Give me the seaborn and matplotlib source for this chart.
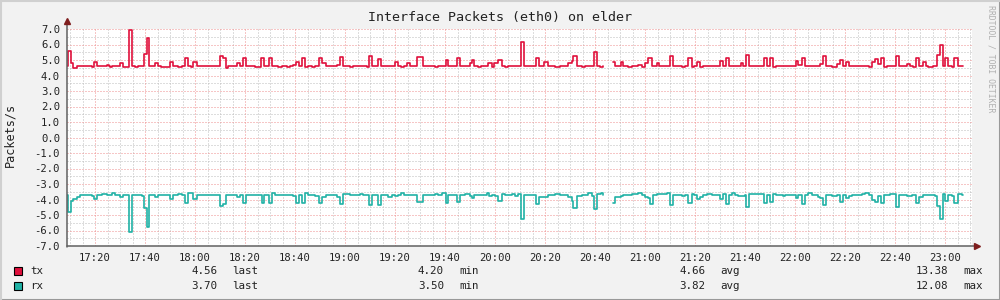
import numpy as np
import pandas as pd
import matplotlib
matplotlib.use("Agg")
import matplotlib.pyplot as plt
from matplotlib.patches import Rectangle
from matplotlib.lines import Line2D
import seaborn as sns

sns.set_style("white")
plt.rcParams['font.family'] = ['DejaVu Sans Mono']

# ---------------- data (minutes after 17:00, step change points) ----------------
tx_minutes = [8.7, 9.3, 10.3, 11.3, 12.7, 18.7, 19.7, 20.9, 24.7, 25.6, 26.0, 26.9, 30.0, 31.3,
              33.6, 34.9, 36.0, 37.3, 39.7, 40.9, 41.7, 44.0, 45.1, 46.4, 50.0, 51.3, 53.3, 54.7,
              56.0, 57.1, 58.3, 59.3, 60.7, 70.0, 71.3, 72.4, 73.3, 76.7, 78.0, 79.1, 80.4, 84.0,
              86.4, 87.7, 89.6, 90.9, 93.3, 94.7, 96.7, 98.0, 99.3, 100.4, 101.7, 102.8, 104.1,
              105.3, 106.7, 108.0, 109.6, 110.9, 112.3, 116.7, 118.0, 119.3, 122.0, 123.3,
              128.7, 129.6, 130.9, 133.1, 134.4, 140.0, 141.3, 142.4, 143.7, 144.7, 146.0, 148.7,
              151.1, 156.0, 157.1, 160.3, 161.3, 164.7, 166.0, 170.0, 170.7, 171.7, 173.1, 174.4,
              177.3, 178.7, 179.7, 181.3, 182.7, 184.0, 185.3, 190.4, 191.7, 196.4, 197.6, 199.7,
              201.1, 204.0, 206.0, 209.3, 210.7, 211.3, 212.7, 214.7, 216.0, 219.7, 220.9, 222.0,
              223.3, 225.3, 227.1, 228.0, 230.3, 231.3, 233.3, 234.7, 237.3, 238.7, 240.0, 241.3,
              242.7, 244.7, 245.6,
              250.0, 251.3, 254.7, 256.0, 257.3, 258.7, 259.6, 260.9, 262.0, 263.3, 270.0, 271.3,
              272.4, 273.7, 278.4, 279.3, 280.4, 281.7, 287.6, 288.9, 290.0, 291.3, 292.4, 300.4,
              301.3, 302.7, 304.0, 310.0, 311.1, 312.3, 314.7, 316.7, 318.0, 319.3, 320.4, 321.7,
              329.7, 330.7, 332.0, 333.3, 334.3, 335.6, 336.7, 340.4, 341.7, 344.7, 346.0, 347.3,
              348.4, 349.7, 351.1, 352.3, 353.3, 355.3, 356.7, 358.0, 359.1, 360.0, 361.3, 362.7,
              363.7, 365.1, 367.3]
tx_values = [4.61, 5.58, 4.78, 4.46, 4.61, 4.55, 4.85, 4.61, 4.68, 4.61, 4.55, 4.61, 4.78, 4.55,
             6.91, 4.61, 4.55, 4.61, 5.39, 6.40, 4.61, 4.78, 4.61, 4.55, 4.85, 4.61, 4.55, 4.61,
             5.11, 4.61, 4.55, 4.85, 4.61, 5.26, 5.11, 4.50, 4.61, 4.78, 4.61, 5.11, 4.61, 4.55,
             5.11, 4.61, 5.11, 4.61, 4.55, 4.61, 4.55, 4.61, 4.68, 4.85, 4.61, 5.11, 4.55,
             4.61, 4.55, 4.61, 5.11, 4.78, 4.61, 4.68, 5.19, 4.61, 4.55, 4.61,
             4.55, 5.26, 4.61, 5.04, 4.61, 4.85, 4.61, 4.55, 4.61, 4.78, 4.61, 5.19,
             4.61, 4.55, 4.61, 5.00, 4.61, 5.11, 4.61, 4.78, 5.00, 4.61, 4.55, 4.61,
             4.78, 4.55, 4.78, 5.00, 4.61, 4.55, 4.61, 6.18, 4.61, 5.11, 4.61, 4.85,
             4.61, 4.55, 4.61, 4.78, 4.94, 5.26, 4.61, 4.55, 4.61, 5.49, 4.61, 4.55,
             4.61, np.nan, 4.85, 4.61, 4.85, 4.61, 4.55, 4.61, 4.68, 4.55, 4.78, 5.11,
             4.61, 4.78, 4.61,
             5.26, 4.61, 4.55, 4.61, 5.11, 4.55, 4.61, 4.85, 4.55, 4.61, 4.94, 4.61,
             5.11, 4.61, 4.78, 4.61, 5.32, 4.61, 5.11, 4.61, 5.11, 4.55, 4.61, 4.94,
             4.68, 5.11, 4.61, 4.72, 5.26, 4.61, 4.55, 4.72, 5.00, 4.61, 4.85, 4.61,
             4.55, 4.85, 5.04, 4.72, 5.11, 4.55, 4.61, 5.26, 4.61, 4.72, 4.61, 4.55,
             5.11, 4.61, 4.85, 4.61, 4.55, 4.61, 5.32, 5.97, 4.61, 5.11, 4.61, 4.55,
             5.11, 4.61, 4.61]

rx_minutes = [8.7, 9.3, 10.3, 11.3, 12.7, 14.0, 18.7, 19.7, 20.9, 22.7, 24.7, 26.7, 28.0, 30.0,
              31.3, 33.6, 34.9, 38.7, 39.7, 40.9, 41.7, 44.0, 45.1, 50.0, 51.3, 53.3, 54.7, 56.0,
              57.1, 59.3, 60.7, 70.0, 71.3, 72.4, 76.7, 78.0, 79.1, 80.4, 86.7, 87.7, 89.6, 90.9,
              92.0, 99.3, 100.4, 101.7, 102.8, 104.1, 105.3, 108.0, 109.6, 110.9, 112.3, 116.7,
              118.0, 119.3, 122.0,
              126.0, 127.3, 129.6, 130.9, 133.1, 134.4, 137.3, 138.7, 140.0, 141.0, 142.4, 143.7,
              148.7, 151.1, 156.0, 157.3, 158.9, 160.3, 161.3, 164.7, 166.0, 168.0, 170.0, 170.7,
              171.7, 176.7, 177.7, 178.7, 180.0, 181.3, 182.7, 184.0, 186.7, 188.0, 189.3, 190.4,
              191.7, 196.4, 197.6, 201.1, 204.0, 206.0, 209.3, 210.7, 211.3, 212.7, 214.7, 217.3,
              218.7, 219.7, 220.9, 222.4, 223.3, 225.3, 227.1, 228.0, 230.3, 231.3, 234.7, 237.3,
              238.7, 240.0, 241.3, 242.0, 243.3, 244.7,
              247.3, 248.7, 250.0, 251.3, 254.7, 256.0, 257.3, 258.7, 259.6, 260.9, 262.0, 263.1,
              264.7, 266.7, 270.0, 271.3, 272.4, 273.7, 274.7, 276.0, 277.3, 280.0, 280.4, 281.7,
              287.6, 288.9, 290.0, 291.3, 292.4, 295.1, 296.0, 300.4, 301.3, 302.7, 304.0, 305.3,
              306.7, 309.0, 310.0, 311.1, 312.3, 314.7, 316.7, 318.0, 319.3, 320.4, 321.7, 322.7,
              326.7, 328.0, 329.7, 330.7, 332.0, 333.3, 334.3, 335.6, 338.0, 340.4, 341.7, 344.7,
              346.7, 348.4, 349.7, 351.1, 356.0, 356.7, 358.0, 359.1, 360.0, 361.3, 362.7, 363.7,
              365.1, 366.7, 367.3]
rx_values = [-3.71, -4.83, -4.08, -3.99, -3.86, -3.71, -3.77, -3.99, -3.71, -3.65, -3.71, -3.60, -3.71, -3.86,
             -3.71, -6.12, -3.71, -3.77, -4.57, -5.75, -3.71, -3.86, -3.71, -3.99, -3.71, -3.65, -3.71, -4.25,
             -3.60, -3.99, -3.71, -4.42, -4.29, -3.71, -3.86, -3.71, -4.20, -3.71, -4.20, -3.71, -4.25, -3.60,
             -3.71, -3.77, -4.20, -3.71, -4.20, -3.60, -3.71, -3.77, -4.25, -3.86, -3.71, -3.86,
             -4.29, -3.65, -3.71,
             -3.65, -3.71, -4.36, -3.71, -4.36, -3.71, -3.82, -3.71, -3.77, -3.71, -3.60, -3.71,
             -4.18, -3.71, -3.65, -3.71, -3.60, -4.25, -3.71, -4.18, -3.71, -3.65, -3.77, -3.92,
             -3.71, -3.60, -3.77, -3.71, -3.77, -4.12, -3.65, -3.71, -3.65, -3.77, -3.65, -5.28,
             -3.71, -4.31, -3.82, -3.71, -3.65, -3.71, -3.82, -4.08, -4.57, -3.77, -3.71, -3.60,
             -3.77, -4.63, -3.65, -3.60, -3.71, np.nan, -4.25, -3.86, -3.77, -3.71, -3.65, -3.60,
             -3.71, -3.82, -3.92, -4.31, -3.71, -3.65,
             -3.65, -3.60, -4.36, -3.71, -3.77, -3.71, -4.25, -3.65, -3.71, -3.97, -3.82, -3.71,
             -3.65, -3.71, -3.97, -3.65, -4.31, -3.71, -3.60, -3.71, -3.77, -3.71, -4.51, -3.65,
             -4.25, -3.71, -4.14, -3.65, -3.71, -3.77, -3.71, -3.92, -3.71, -4.31, -3.71, -3.60,
             -3.71, -3.86, -3.92, -4.36, -3.71, -3.77, -3.71, -4.18, -3.71, -3.92, -3.77, -3.71,
             -3.65, -3.60, -3.71, -4.03, -4.14, -3.77, -4.25, -3.71, -3.65, -4.46, -3.71, -3.77,
             -3.71, -4.25, -3.86, -3.71, -3.77, -4.42, -5.28, -3.65, -4.08, -3.71, -3.77, -4.25,
             -3.65, -3.71, -3.71]

tick_minutes = [20, 40, 60, 80, 100, 120, 140, 160, 180, 200, 220, 240, 260, 280, 300, 320, 340, 360]
tick_labels = ["17:20", "17:40", "18:00", "18:20", "18:40", "19:00", "19:20", "19:40", "20:00",
               "20:20", "20:40", "21:00", "21:20", "21:40", "22:00", "22:20", "22:40", "23:00"]
series_names = ["tx", "rx"]
series_colors = ["#E0103C", "#20B2A6"]
stat_names = ["last", "min", "avg", "max"]
tx_stats = ["4.56", "4.20", "4.66", "13.38"]
rx_stats = ["3.70", "3.50", "3.82", "12.08"]

title = "Interface Packets (eth0) on elder"
ylabel = "Packets/s"
watermark = "RRDTOOL / TOBI OETIKER"

# ---------------- figure ----------------
W, H = 1000, 300
fig = plt.figure(figsize=(W / 100, H / 100), dpi=100, facecolor="#F2F2F2")

def fx(px):
    return px / W

def fy(py):
    return 1 - py / H

ax = fig.add_axes([fx(67), fy(246), fx(972) - fx(67), fy(29) - fy(246)])
ax.set_facecolor("white")
ax.set_xlim(8.8, 370.8)
ax.set_ylim(-7, 7)

dot = (0, (1, 2))
minor_c = "#BDBDBD"
major_c = "#EE8F8F"
grid_kw = dict(lw=0.72, ls=dot)
for m in np.arange(10, 371, 5):
    if m % 20 != 0:
        ax.axvline(m, color=minor_c, zorder=1, **grid_kw)
for v in np.arange(-6.5, 7.0, 1.0):
    ax.axhline(v, color=minor_c, zorder=1, **grid_kw)
for m in tick_minutes:
    ax.axvline(m, color=major_c, zorder=1.5, **grid_kw)
for v in range(-7, 8):
    ax.axhline(v, color=major_c, zorder=1.5, **grid_kw)


def draw_steps(times, values, color):
    df = pd.DataFrame({"t": times, "v": values})
    seg_id = df["v"].isna().cumsum()
    for _, seg in df.groupby(seg_id):
        seg = seg.dropna()
        if len(seg) < 2:
            continue
        sns.lineplot(data=seg, x="t", y="v", ax=ax, color=color, lw=1.2,
                     drawstyle="steps-post", estimator=None, legend=False, zorder=3)


draw_steps(tx_minutes, tx_values, series_colors[0])
draw_steps(rx_minutes, rx_values, series_colors[1])

ax.set_xlabel("")
ax.set_ylabel("")
for s in ax.spines.values():
    s.set_visible(False)

ax.set_yticks(range(-7, 8))
ax.set_yticklabels([f"{v:.1f}" for v in range(-7, 8)])
ax.set_xticks(tick_minutes)
ax.set_xticklabels(tick_labels)
ax.set_xticks(np.arange(10, 371, 5), minor=True)
ax.set_yticks(np.arange(-6.5, 7.0, 1.0), minor=True)
ax.tick_params(axis="both", which="major", labelsize=7.6, colors="#222222",
               length=2, width=0.8, direction="inout", pad=3)
ax.tick_params(axis="both", which="minor", length=1.5, width=0.8, direction="out",
               colors="#666666")
ax.tick_params(axis="y", pad=4)
ax.tick_params(axis="x", pad=4)

# axes lines with arrows
axis_c = "#606060"
arrow_c = "#7F1E1E"
ax.add_line(Line2D([0, 0], [-0.005, 1.035], transform=ax.transAxes, color=axis_c, lw=1.1,
                   clip_on=False, zorder=5))
ax.add_line(Line2D([0, 1.004], [0, 0], transform=ax.transAxes, color=axis_c, lw=1.1,
                   clip_on=False, zorder=5))
ax.plot([0], [1.035], marker="^", ms=4.5, color=arrow_c, transform=ax.transAxes,
        clip_on=False, zorder=6)
ax.plot([1.006], [0], marker=">", ms=4.5, color=arrow_c, transform=ax.transAxes,
        clip_on=False, zorder=6)

# title, labels
fig.text(0.5, fy(18), title, ha="center", va="center", fontsize=9.6, color="#222222")
fig.text(fx(10), fy(135), ylabel, ha="center", va="center", rotation=90,
         fontsize=8.6, color="#222222")
fig.text(fx(991), fy(5), watermark, ha="center", va="top", rotation=270,
         fontsize=5.9, color="#B0B0B0")

# legend
rows = [(fy(271), tx_stats), (fy(286), rx_stats)]
val_right = [217, 444, 705, 948]
name_left = [232, 459, 720, 963]
for (yy, stats), name, col in zip(rows, series_names, series_colors):
    fig.patches.append(Rectangle((fx(14), yy - 4 / H), 8 / W, 8 / H, transform=fig.transFigure,
                                 facecolor=col, edgecolor="black", lw=0.8))
    fig.text(fx(30), yy, name, ha="left", va="center", fontsize=7.8, color="#222222")
    for s, vr, nl, sn in zip(stats, val_right, name_left, stat_names):
        fig.text(fx(vr), yy, s, ha="right", va="center", fontsize=7.8, color="#222222")
        fig.text(fx(nl), yy, sn, ha="left", va="center", fontsize=7.8, color="#222222")

# outer frame
fig.add_artist(Line2D([0, 1], [0.5 / H, 0.5 / H], transform=fig.transFigure, color="#999999", lw=1.5))
fig.add_artist(Line2D([1 - 0.5 / W, 1 - 0.5 / W], [0, 1], transform=fig.transFigure, color="#999999", lw=1.5))
fig.add_artist(Line2D([0, 1], [1 - 0.5 / H, 1 - 0.5 / H], transform=fig.transFigure, color="#D0D0D0", lw=1.5))
fig.add_artist(Line2D([0.5 / W, 0.5 / W], [0, 1], transform=fig.transFigure, color="#D0D0D0", lw=1.5))

fig.savefig("out.png", dpi=100, facecolor=fig.get_facecolor())
